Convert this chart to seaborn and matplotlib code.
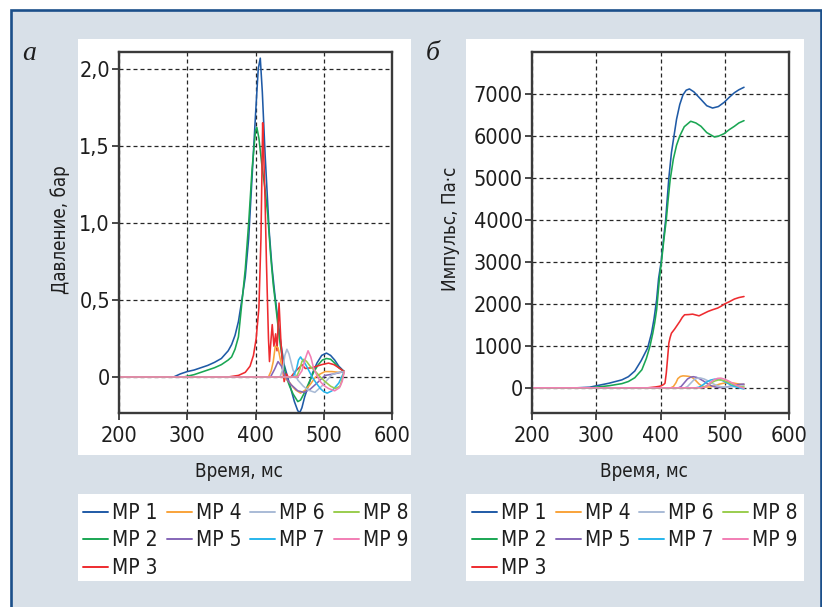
import numpy as np
import pandas as pd
import matplotlib
matplotlib.use("Agg")
import matplotlib.pyplot as plt
import seaborn as sns
from matplotlib.patches import Rectangle
from matplotlib.lines import Line2D
from matplotlib.ticker import FuncFormatter, FixedLocator
from matplotlib import font_manager as fm

# ---------------------------------------------------------------- data
SENSORS = ["MP 1", "MP 2", "MP 3", "MP 4", "MP 5", "MP 6", "MP 7", "MP 8", "MP 9"]
COLORS = ["#1f5aa6", "#1aa653", "#ee2b2f", "#f9a33a", "#8566b8",
          "#a9bbd6", "#27b5ec", "#9acd4e", "#f27eb4"]

# pressure, bar (time in ms)
P1_T = [200, 280, 285, 290, 300, 310, 320, 330, 340, 350, 360, 365, 370, 375, 380, 385, 390, 395, 400,
        404, 407, 410, 414, 417, 420, 424, 428, 432, 437, 442, 447, 452, 457, 462, 465, 468, 472, 478,
        484, 490, 497, 504, 510, 516, 522, 530]
P1_V = [0, 0, 0.01, 0.02, 0.035, 0.045, 0.06, 0.075, 0.095, 0.12, 0.17, 0.21, 0.27, 0.36, 0.5, 0.65,
        0.9, 1.3, 1.7, 2.0, 2.07, 1.85, 1.45, 1.2, 0.95, 0.72, 0.55, 0.4, 0.22, 0.08, 0.0, -0.08, -0.16,
        -0.22, -0.23, -0.2, -0.13, -0.05, 0.03, 0.09, 0.14, 0.155, 0.14, 0.11, 0.07, 0.035]

P2_T = [200, 295, 300, 310, 320, 330, 340, 350, 360, 365, 370, 375, 380, 385, 390, 395, 400, 402, 405,
        410, 414, 418, 422, 426, 430, 435, 440, 445, 450, 455, 462, 466, 472, 478, 485, 492, 498, 504,
        510, 516, 522, 530]
P2_V = [0, 0, 0.005, 0.015, 0.03, 0.045, 0.06, 0.08, 0.11, 0.13, 0.18, 0.26, 0.48, 0.7, 1.0, 1.35, 1.6,
        1.62, 1.55, 1.35, 1.22, 1.05, 0.8, 0.6, 0.45, 0.25, 0.1, 0.0, -0.06, -0.11, -0.16, -0.15, -0.1,
        -0.04, 0.03, 0.08, 0.11, 0.12, 0.115, 0.09, 0.06, 0.035]

P3_T = [200, 360, 375, 385, 392, 397, 401, 405, 408, 409, 410.5, 412, 414, 416, 417.5, 419, 420.5, 422,
        424.5, 427, 429.5, 431.5, 434.5, 437, 440, 442, 445, 448, 452, 458, 464, 468, 473, 483, 497, 507,
        515, 522, 530]
P3_V = [0, 0, 0.01, 0.03, 0.07, 0.14, 0.25, 0.45, 0.9, 1.2, 1.65, 1.45, 1.15, 0.75, 0.5, 0.25, 0.1, 0.2,
        0.34, 0.2, 0.28, 0.17, 0.48, 0.25, 0.05, -0.03, 0.02, 0.0, 0.0, 0.035, 0.06, 0.08, 0.055, 0.06,
        0.08, 0.09, 0.08, 0.06, 0.035]

P4_T = [200, 419, 423, 426, 429, 433, 437, 440, 444, 449, 454, 459, 466, 473, 480, 488, 495, 502, 512,
        522, 530]
P4_V = [0, 0, 0.04, 0.1, 0.2, 0.19, 0.1, 0.04, -0.01, -0.03, -0.06, -0.085, -0.105, -0.085, -0.05, 0.0,
        0.02, 0.035, 0.035, 0.03, 0.035]

P5_T = [200, 422, 428, 433, 438, 444, 452, 462, 471, 480, 490, 502, 515, 530]
P5_V = [0, 0, 0.05, 0.1, 0.07, 0.0, -0.05, -0.09, -0.1, -0.08, -0.04, 0.01, 0.02, 0.035]

P6_T = [200, 436, 440, 443, 446, 449, 455, 462, 470, 477, 487, 497, 505, 512, 522, 530]
P6_V = [0, 0, 0.05, 0.14, 0.18, 0.15, 0.045, -0.02, -0.06, -0.085, -0.1, -0.06, -0.02, 0.015, 0.03,
        0.035]

P7_T = [200, 455, 460, 463, 466, 469, 471, 476, 483, 489, 495, 500, 505, 512, 518, 522, 530]
P7_V = [0, 0, 0.05, 0.11, 0.13, 0.11, 0.1, 0.06, 0.0, -0.04, -0.075, -0.095, -0.105, -0.09, -0.06,
        -0.04, 0.035]

P8_T = [200, 460, 465, 468, 471, 475, 480, 488, 495, 502, 510, 517, 524, 530]
P8_V = [0, 0, 0.05, 0.1, 0.115, 0.1, 0.07, 0.035, 0.0, -0.03, -0.06, -0.075, -0.06, 0.035]

P9_T = [200, 462, 468, 473, 477, 481, 485, 490, 495, 500, 507, 516, 523, 527, 530]
P9_V = [0, 0, 0.04, 0.12, 0.17, 0.13, 0.06, 0.01, -0.03, -0.055, -0.075, -0.09, -0.07, -0.03, 0.035]

# impulse, Pa*s (time in ms)
I1_T = [200, 270, 290, 300, 320, 340, 350, 360, 370, 380, 386, 390, 394, 397, 401, 404.5, 408, 411, 413,
        417, 421, 425, 430, 435, 440, 445, 452, 463, 472, 481, 490, 499, 507, 515, 522, 530]
I1_V = [0, 0, 15, 48, 110, 190, 265, 400, 650, 950, 1300, 1650, 2100, 2600, 3000, 3500, 4000, 4600, 5000,
        5600, 6000, 6400, 6750, 6980, 7090, 7120, 7050, 6870, 6720, 6665, 6700, 6800, 6920, 7030, 7100,
        7160]

I2_T = [200, 290, 300, 320, 340, 350, 360, 371, 378, 383.5, 388, 391, 394, 398, 401.5, 405, 409, 412,
        415, 420, 425, 430, 437, 447, 455, 463, 472, 484, 491, 499, 507, 515, 522, 530]
I2_V = [0, 0, 16, 50, 100, 150, 240, 430, 700, 985, 1300, 1550, 1860, 2550, 3000, 3500, 4000, 4500, 4950,
        5450, 5780, 6000, 6220, 6350, 6310, 6230, 6080, 5975, 6000, 6055, 6150, 6230, 6310, 6365]

I3_T = [200, 380, 392, 398, 401.5, 405, 407, 409, 411, 413, 415, 417, 422, 426, 430, 434, 437.5, 444, 450,
        455, 460, 466, 474, 481, 489, 495, 500, 507, 515, 522, 530]
I3_V = [0, 0, 20, 35, 50, 80, 110, 350, 700, 1065, 1200, 1300, 1400, 1490, 1580, 1680, 1740, 1745, 1755,
        1735, 1715, 1760, 1820, 1860, 1900, 1950, 2000, 2050, 2115, 2150, 2175]

I4_T = [200, 416, 420, 424, 427, 431, 435, 440, 445, 450, 455, 460, 465, 470, 478, 485, 492, 500, 508,
        515, 522, 530]
I4_V = [0, 0, 30, 120, 220, 270, 285, 280, 270, 240, 170, 90, 40, 20, 20, 50, 90, 115, 125, 110, 90, 75]

I5_T = [200, 428, 432, 437, 442, 447, 451, 456, 461, 467, 473, 479, 485, 492, 500, 508, 515, 522, 530]
I5_V = [0, 0, 30, 120, 210, 255, 265, 250, 215, 160, 100, 50, 20, 5, 10, 35, 60, 80, 90]

I6_T = [200, 438, 442, 447, 452, 457, 462, 468, 474, 480, 487, 494, 500, 508, 516, 523, 530]
I6_V = [0, 0, 30, 110, 190, 230, 235, 210, 165, 110, 60, 25, 15, 20, 30, 40, 45]

I7_T = [200, 455, 460, 466, 472, 478, 484, 490, 496, 502, 508, 514, 520, 526, 530]
I7_V = [0, 0, 15, 70, 140, 185, 205, 200, 175, 130, 80, 40, 10, -15, -25]

I8_T = [200, 462, 467, 473, 479, 485, 491, 497, 503, 509, 515, 521, 526, 530]
I8_V = [0, 0, 15, 60, 120, 165, 190, 180, 150, 105, 70, 40, 25, 20]

I9_T = [200, 463, 468, 473, 478, 483, 489, 494, 499, 505, 511, 517, 523, 530]
I9_V = [0, 0, 10, 50, 130, 190, 225, 230, 210, 170, 120, 70, 25, -10]

PRESSURE = [(P1_T, P1_V), (P2_T, P2_V), (P3_T, P3_V), (P4_T, P4_V), (P5_T, P5_V),
            (P6_T, P6_V), (P7_T, P7_V), (P8_T, P8_V), (P9_T, P9_V)]
IMPULSE = [(I1_T, I1_V), (I2_T, I2_V), (I3_T, I3_V), (I4_T, I4_V), (I5_T, I5_V),
           (I6_T, I6_V), (I7_T, I7_V), (I8_T, I8_V), (I9_T, I9_V)]

X_TICKS = [200, 300, 400, 500, 600]
P_TICKS = [0, 0.5, 1.0, 1.5, 2.0]
I_TICKS = [0, 1000, 2000, 3000, 4000, 5000, 6000, 7000]


def long_frame(series):
    parts = []
    for name, (t, v) in zip(SENSORS, series):
        parts.append(pd.DataFrame({"t": t, "v": v, "sensor": name}))
    return pd.concat(parts, ignore_index=True)


def pick_condensed():
    """Return (family, stretch) of an installed narrow sans face, or None."""
    entries = fm.fontManager.ttflist
    for f in entries:
        if f.name == "Liberation Sans Narrow":
            return "Liberation Sans Narrow", "normal"
    for fam in ["DejaVu Sans", "Noto Sans", "Open Sans", "Roboto"]:
        for f in entries:
            if (f.name == fam and f.stretch in ("condensed", "semi-condensed")
                    and f.style == "normal" and str(f.weight) in ("400", "normal", "regular")):
                return fam, f.stretch
        for f in entries:
            if f.name == fam + " Condensed" and f.style == "normal":
                return fam + " Condensed", "normal"
    return None


# ---------------------------------------------------------------- style
sns.set_theme(style="white")
narrow = pick_condensed()
if narrow:
    FAMILY, STRETCH = narrow
    TICK_PT, LEG_PT, LAB_PT = 15.5, 15.0, 13.5
else:
    FAMILY, STRETCH = "Liberation Sans", "normal"
    TICK_PT, LEG_PT, LAB_PT = 13.5, 13.5, 13.0
plt.rcParams["font.family"] = [FAMILY, "DejaVu Sans"]
plt.rcParams["font.stretch"] = STRETCH
TXT = "#1e1e1e"

W, H = 822, 607
fig = plt.figure(figsize=(W / 100, H / 100), dpi=100)
fig.patch.set_facecolor("white")


def fx(px):
    return px / W


def fy(py):
    return 1 - py / H


# framed panel background
fig.add_artist(Rectangle((fx(10.5), fy(620)), fx(810), (620 - 9.5) / H,
                         transform=fig.transFigure, facecolor="#d8e0e8",
                         edgecolor="#1b4f8a", lw=1.9, zorder=-3))
# white cards behind plots and legends
for x0, x1 in [(78, 411), (466, 804)]:
    fig.add_artist(Rectangle((fx(x0), fy(455)), fx(x1 - x0), 416 / H,
                             transform=fig.transFigure, facecolor="white",
                             edgecolor="none", zorder=-2))
    fig.add_artist(Rectangle((fx(x0), fy(581)), fx(x1 - x0), 87 / H,
                             transform=fig.transFigure, facecolor="white",
                             edgecolor="none", zorder=-2))

axL = fig.add_axes([fx(119), fy(413), fx(273), 361 / H])
axR = fig.add_axes([fx(532), fy(413), fx(257), 361 / H])

palette = dict(zip(SENSORS, COLORS))
for ax, series in [(axL, PRESSURE), (axR, IMPULSE)]:
    sns.lineplot(data=long_frame(series), x="t", y="v", hue="sensor",
                 hue_order=SENSORS, palette=palette, estimator=None,
                 sort=False, lw=1.15, legend=False, ax=ax)

grid_style = dict(color="#262626", lw=0.9, ls=(0, (3.2, 2.4)))
for ax in (axL, axR):
    ax.set_facecolor("white")
    ax.set_xlim(200, 600)
    ax.xaxis.set_major_locator(FixedLocator(X_TICKS))
    ax.set_axisbelow(True)
    ax.grid(True, **grid_style)
    ax.set_xlabel("")
    ax.set_ylabel("")
    for sp in ax.spines.values():
        sp.set_visible(True)
        sp.set_color("#3a3a3a")
        sp.set_linewidth(1.7)
    ax.tick_params(axis="both", which="major", direction="out", length=5,
                   width=1.3, color="#3a3a3a", labelsize=TICK_PT, labelcolor=TXT,
                   bottom=True, left=True)
    ax.tick_params(axis="x", pad=4)
    ax.tick_params(axis="y", pad=1.5)

axL.set_ylim(-0.234, 2.11)
axL.yaxis.set_major_locator(FixedLocator(P_TICKS))
axL.yaxis.set_major_formatter(
    FuncFormatter(lambda v, p: "0" if v == 0 else f"{v:.1f}".replace(".", ",")))
axR.set_ylim(-600, 8000)
axR.yaxis.set_major_locator(FixedLocator(I_TICKS))
axR.yaxis.set_major_formatter(FuncFormatter(lambda v, p: f"{v:.0f}"))

# axis titles
lab = dict(fontsize=LAB_PT, color=TXT)
fig.text(fx(239), fy(477), "Время, мс", ha="center", va="baseline", **lab)
fig.text(fx(644), fy(477), "Время, мс", ha="center", va="baseline", **lab)
fig.text(fx(60), fy(230), "Давление, бар", rotation=90, ha="center", va="center", **lab)
fig.text(fx(450), fy(229), "Импульс, Па·с", rotation=90, ha="center", va="center", **lab)

# panel letters
for x, s in [(22, "а"), (426, "б")]:
    fig.text(fx(x), fy(60), s, family=["Liberation Serif", "DejaVu Serif"],
             stretch="normal", style="italic", fontsize=20, color=TXT,
             va="baseline", ha="left")

# legends (spacings given in pixels, converted to font units)
leg_px = LEG_PT * 100 / 72
handles = [Line2D([], [], color=c, lw=1.4) for c in COLORS]
for x in (83, 472):
    fig.legend(handles, SENSORS, ncol=4, loc="upper left",
               bbox_to_anchor=(fx(x), fy(503)), bbox_transform=fig.transFigure,
               frameon=False, fontsize=LEG_PT, handlelength=25 / leg_px,
               handletextpad=4 / leg_px, columnspacing=9 / leg_px,
               labelspacing=(27 - 0.94 * leg_px) / leg_px, borderaxespad=0,
               borderpad=0, labelcolor=TXT)

fig.savefig("out.png", dpi=100, facecolor="white")
